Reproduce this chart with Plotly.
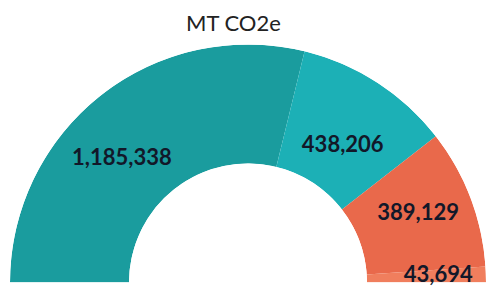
import plotly.graph_objects as go

categories = ["A", "B", "C", "D"]
values = [1185338, 438206, 389129, 43694]
labels = ["1,185,338", "438,206", "389,129", "43,694"]
title_text = "MT CO2e"

colors = ["#1a9c9e", "#1cb0b6", "#e9694b", "#f07e5d"]

total = sum(values)
widths = [v / total * 180 for v in values]
centers = []
acc = 0
for w in widths:
    centers.append(acc + w / 2)
    acc += w

# label placement tweaks (style)
label_dtheta = [-7.6, 2.0, -1.0, 0.1]
label_r = [0.48, 0.39, 0.54, 0.60]

fig = go.Figure()
fig.add_trace(go.Barpolar(
    r=[1] * len(values),
    theta=centers,
    width=widths,
    base=0,
    marker=dict(color=colors, line=dict(width=0)),
    hoverinfo="skip",
))
fig.add_trace(go.Scatterpolar(
    r=label_r,
    theta=[c + d for c, d in zip(centers, label_dtheta)],
    mode="text",
    text=labels,
    textfont=dict(family="Lato", size=22, color="#121829", weight="bold"),
    cliponaxis=False,
    hoverinfo="skip",
))

fig.add_annotation(
    text=title_text, xref="paper", yref="paper", x=0.469, y=1,
    xanchor="center", yanchor="middle", yshift=22, showarrow=False,
    font=dict(family="Lato", size=22, color="#222222"),
)

fig.update_layout(
    width=488, height=286,
    margin=dict(l=10, r=2, t=44, b=3),
    paper_bgcolor="white",
    plot_bgcolor="white",
    showlegend=False,
    polar=dict(
        sector=[0, 180],
        hole=0.5,
        bgcolor="white",
        radialaxis=dict(visible=False, range=[0, 1], showgrid=False),
        angularaxis=dict(visible=False, direction="clockwise", rotation=180,
                         showgrid=False, showline=False, ticks=""),
        bargap=0,
    ),
)

fig.write_html(
    "out.html",
    config={"displayModeBar": False},
    post_script="document.body.style.margin='0';document.body.style.overflow='hidden';",
)
